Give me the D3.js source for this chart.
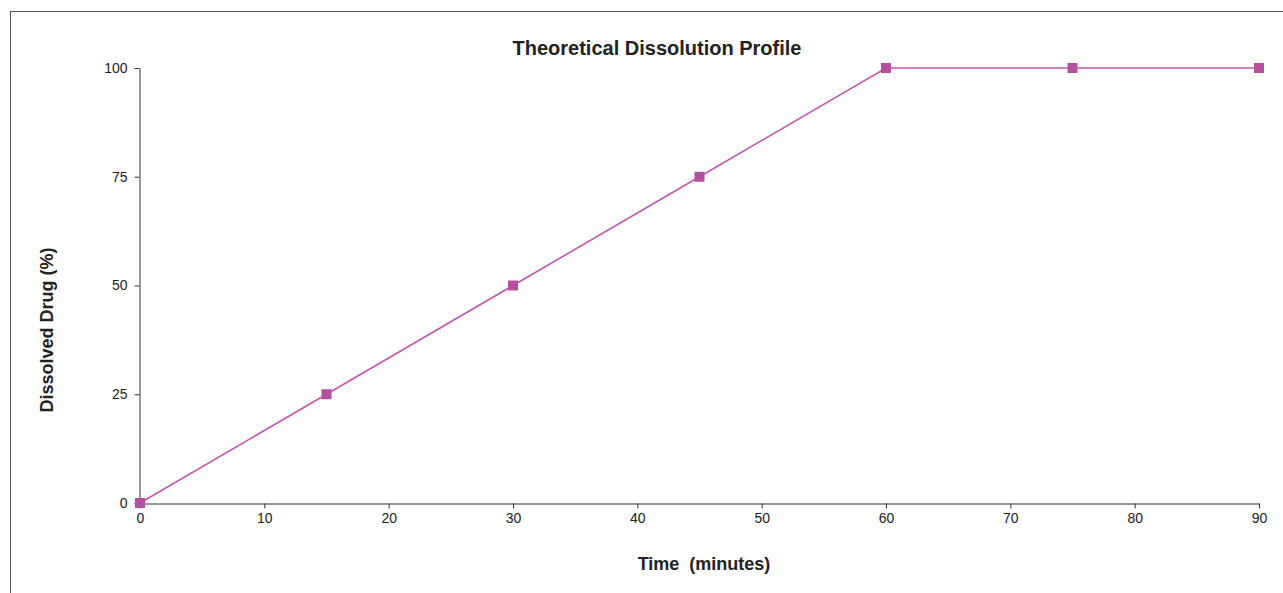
<!DOCTYPE html>
<html>
<head>
<meta charset="utf-8">
<script src="https://cdn.jsdelivr.net/npm/d3@7/dist/d3.min.js"></script>
<style>
  body { margin: 0; background: #fff; }
  svg { display: block; font-family: "Liberation Sans", Arial, sans-serif; }
  .axis path, .axis line { stroke: #333; }
  .axis text { fill: #222; font-size: 14px; }
</style>
</head>
<body>
<div id="chart"></div>
<script>
// data
const times = [0, 15, 30, 45, 60, 75, 90];
const dissolved = [0, 25, 50, 75, 100, 100, 100];
const xTicks = [0, 10, 20, 30, 40, 50, 60, 70, 80, 90];
const yTicks = [0, 25, 50, 75, 100];

const width = 1283;
const height = 593;
const margin = {top: 68, right: 24, bottom: 90, left: 140};

const svg = d3.select('#chart')
    .append('svg')
    .attr('width', width)
    .attr('height', height);

// outer frame (runs off the right and bottom of the picture)
svg.append('rect')
    .attr('x', 10.5)
    .attr('y', 11.5)
    .attr('width', width + 20)
    .attr('height', height + 20)
    .attr('fill', 'none')
    .attr('stroke', '#555');

const x = d3.scaleLinear()
    .domain([0, 90])
    .range([margin.left, width - margin.right]);

const y = d3.scaleLinear()
    .domain([0, 100])
    .range([height - margin.bottom, margin.top]);

const xAxis = d3.axisBottom(x)
    .tickValues(xTicks)
    .tickSize(5)
    .tickSizeOuter(0)
    .tickPadding(5);

const yAxis = d3.axisLeft(y)
    .tickValues(yTicks)
    .tickSize(5)
    .tickSizeOuter(0)
    .tickPadding(7);

svg.append('g')
    .attr('class', 'x axis')
    .attr('transform', `translate(0,${y(0) + 0.5})`)
    .call(xAxis);

svg.append('g')
    .attr('class', 'y axis')
    .attr('transform', `translate(${x(0) - 0.5},0)`)
    .call(yAxis);

// line + square markers
const pts = times.map((t, i) => [t, dissolved[i]]);

const line = d3.line()
    .x(d => x(d[0]))
    .y(d => y(d[1]));

svg.append('path')
    .datum(pts)
    .attr('d', line)
    .attr('fill', 'none')
    .attr('stroke', '#c257ab')
    .attr('stroke-width', 1.6);

const sz = 10;
svg.selectAll('.marker')
    .data(pts)
    .enter()
    .append('rect')
    .attr('class', 'marker')
    .attr('x', d => x(d[0]) - sz / 2)
    .attr('y', d => y(d[1]) - sz / 2)
    .attr('width', sz)
    .attr('height', sz)
    .attr('fill', '#b54f9f');

// titles
svg.append('text')
    .attr('x', 657)
    .attr('y', 55)
    .attr('text-anchor', 'middle')
    .attr('font-size', 20)
    .attr('font-weight', 'bold')
    .attr('fill', '#222')
    .text('Theoretical Dissolution Profile');

svg.append('text')
    .attr('x', 704)
    .attr('y', 570)
    .attr('text-anchor', 'middle')
    .attr('font-size', 18)
    .attr('font-weight', 'bold')
    .attr('fill', '#222')
    .attr('xml:space', 'preserve')
    .style('white-space', 'pre')
    .text('Time  (minutes)');

svg.append('text')
    .attr('transform', 'translate(53,330) rotate(-90)')
    .attr('text-anchor', 'middle')
    .attr('font-size', 18)
    .attr('font-weight', 'bold')
    .attr('fill', '#222')
    .text('Dissolved Drug (%)');
</script>
</body>
</html>
